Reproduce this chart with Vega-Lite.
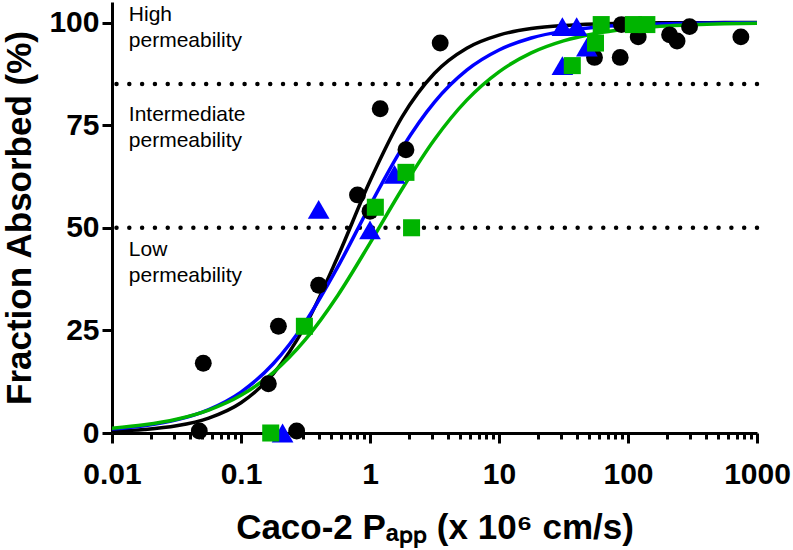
{
  "$schema": "https://vega.github.io/schema/vega-lite/v6.json",
  "width": 645,
  "height": 431,
  "autosize": {"type": "none"},
  "padding": {"left": 112, "top": 2, "right": 36, "bottom": 117},
  "datasets": {
    "levels": [{"level": 85}, {"level": 50}],
    "notes": [
      {"x": 0.0135, "y": 100.3, "note": "High\npermeability"},
      {"x": 0.0135, "y": 75.9, "note": "Intermediate\npermeability"},
      {"x": 0.0135, "y": 43.0, "note": "Low\npermeability"}
    ],
    "curves": [
      {"s": "A", "x": 0.01, "y": 0.40}, {"s": "A", "x": 0.01778, "y": 0.84}, {"s": "A", "x": 0.03162, "y": 1.75}, {"s": "A", "x": 0.05623, "y": 3.64},
      {"s": "A", "x": 0.1, "y": 7.38}, {"s": "A", "x": 0.1778, "y": 14.41}, {"s": "A", "x": 0.3162, "y": 26.25}, {"s": "A", "x": 0.5623, "y": 42.93},
      {"s": "A", "x": 1, "y": 61.39}, {"s": "A", "x": 1.778, "y": 77.07}, {"s": "A", "x": 3.162, "y": 87.66}, {"s": "A", "x": 5.623, "y": 93.76},
      {"s": "A", "x": 10, "y": 96.94}, {"s": "A", "x": 17.78, "y": 98.53}, {"s": "A", "x": 31.62, "y": 99.30}, {"s": "A", "x": 56.23, "y": 99.67},
      {"s": "A", "x": 100, "y": 99.84}, {"s": "A", "x": 177.8, "y": 99.93}, {"s": "A", "x": 316.2, "y": 99.96}, {"s": "A", "x": 562.3, "y": 99.98},
      {"s": "A", "x": 1000, "y": 99.99},
      {"s": "B", "x": 0.01, "y": 0.98}, {"s": "B", "x": 0.01778, "y": 1.77}, {"s": "B", "x": 0.03162, "y": 3.20}, {"s": "B", "x": 0.05623, "y": 5.71},
      {"s": "B", "x": 0.1, "y": 9.97}, {"s": "B", "x": 0.1778, "y": 16.86}, {"s": "B", "x": 0.3162, "y": 27.07}, {"s": "B", "x": 0.5623, "y": 40.45},
      {"s": "B", "x": 1, "y": 55.42}, {"s": "B", "x": 1.778, "y": 69.47}, {"s": "B", "x": 3.162, "y": 80.63}, {"s": "B", "x": 5.623, "y": 88.40},
      {"s": "B", "x": 10, "y": 93.31}, {"s": "B", "x": 17.78, "y": 96.23}, {"s": "B", "x": 31.62, "y": 97.91}, {"s": "B", "x": 56.23, "y": 98.84},
      {"s": "B", "x": 100, "y": 99.37}, {"s": "B", "x": 177.8, "y": 99.65}, {"s": "B", "x": 316.2, "y": 99.81}, {"s": "B", "x": 562.3, "y": 99.90},
      {"s": "B", "x": 1000, "y": 99.94},
      {"s": "C", "x": 0.01, "y": 1.18}, {"s": "C", "x": 0.01778, "y": 1.99}, {"s": "C", "x": 0.03162, "y": 3.35}, {"s": "C", "x": 0.05623, "y": 5.59},
      {"s": "C", "x": 0.1, "y": 9.18}, {"s": "C", "x": 0.1778, "y": 14.72}, {"s": "C", "x": 0.3162, "y": 22.78}, {"s": "C", "x": 0.5623, "y": 33.51},
      {"s": "C", "x": 1, "y": 46.26}, {"s": "C", "x": 1.778, "y": 59.51}, {"s": "C", "x": 3.162, "y": 71.52}, {"s": "C", "x": 5.623, "y": 81.10},
      {"s": "C", "x": 10, "y": 87.99}, {"s": "C", "x": 17.78, "y": 92.60}, {"s": "C", "x": 31.62, "y": 95.53}, {"s": "C", "x": 56.23, "y": 97.33},
      {"s": "C", "x": 100, "y": 98.42}, {"s": "C", "x": 177.8, "y": 99.07}, {"s": "C", "x": 316.2, "y": 99.45}, {"s": "C", "x": 562.3, "y": 99.68},
      {"s": "C", "x": 1000, "y": 99.81}
    ],
    "points": [
      {"s": "A", "x": 0.0475, "y": 0.5}, {"s": "A", "x": 0.051, "y": 17}, {"s": "A", "x": 0.163, "y": 12}, {"s": "A", "x": 0.195, "y": 26},
      {"s": "A", "x": 0.27, "y": 0.5}, {"s": "A", "x": 0.4, "y": 36}, {"s": "A", "x": 0.8, "y": 58}, {"s": "A", "x": 1.0, "y": 54},
      {"s": "A", "x": 1.2, "y": 79}, {"s": "A", "x": 1.9, "y": 69}, {"s": "A", "x": 3.5, "y": 95}, {"s": "A", "x": 55, "y": 91.5},
      {"s": "A", "x": 87, "y": 91.5}, {"s": "A", "x": 89, "y": 99.5}, {"s": "A", "x": 120, "y": 96.5}, {"s": "A", "x": 210, "y": 97},
      {"s": "A", "x": 240, "y": 95.5}, {"s": "A", "x": 300, "y": 99}, {"s": "A", "x": 750, "y": 96.5},
      {"s": "B", "x": 0.21, "y": 0}, {"s": "B", "x": 0.4, "y": 54.5}, {"s": "B", "x": 1.0, "y": 49.5}, {"s": "B", "x": 1.55, "y": 63},
      {"s": "B", "x": 31, "y": 89.5}, {"s": "B", "x": 31, "y": 99}, {"s": "B", "x": 40, "y": 99}, {"s": "B", "x": 48, "y": 94},
      {"s": "C", "x": 0.17, "y": 0}, {"s": "C", "x": 0.31, "y": 26}, {"s": "C", "x": 1.1, "y": 55}, {"s": "C", "x": 1.9, "y": 63.5},
      {"s": "C", "x": 2.1, "y": 50}, {"s": "C", "x": 37, "y": 89.5}, {"s": "C", "x": 56, "y": 95}, {"s": "C", "x": 62, "y": 99.5},
      {"s": "C", "x": 110, "y": 99.5}, {"s": "C", "x": 140, "y": 99.5}
    ]
  },
  "encoding": {
    "x": {
      "field": "x", "type": "quantitative",
      "scale": {"type": "log", "domain": [0.01, 1000], "nice": false},
      "axis": {
        "title": "Caco-2 Pₐₚₚ (x 10⁶ cm/s)",
        "values": [0.01, 0.02, 0.03, 0.04, 0.05, 0.06, 0.07, 0.08, 0.09, 0.1, 0.2, 0.3, 0.4, 0.5, 0.6, 0.7, 0.8, 0.9, 1, 2, 3, 4, 5, 6, 7, 8, 9, 10, 20, 30, 40, 50, 60, 70, 80, 90, 100, 200, 300, 400, 500, 600, 700, 800, 900, 1000],
        "format": "~g",
        "labelExpr": "indexof([0.01, 0.1, 1, 10, 100, 1000], datum.value) >= 0 ? datum.label : ''",
        "tickSize": 10,
        "tickDash": {"condition": {"test": "indexof([0.01, 0.1, 1, 10, 100, 1000], datum.value) >= 0", "value": [20, 1]}, "value": [6, 20]},
        "labelOverlap": false,
        "labelFlush": false,
        "labelPadding": 16,
        "titlePadding": 21
      }
    },
    "y": {
      "field": "y", "type": "quantitative",
      "scale": {"domain": [0, 105], "nice": false},
      "axis": {
        "title": "Fraction Absorbed (%)",
        "values": [0, 25, 50, 75, 100],
        "tickSize": 10,
        "labelPadding": 3,
        "titlePadding": 11
      }
    }
  },
  "layer": [
    {
      "data": {"name": "levels"},
      "mark": {"type": "rule", "color": "black", "strokeDash": [0.01, 12.8], "strokeCap": "round", "strokeWidth": 4.5},
      "encoding": {"x": null, "y": {"field": "level", "type": "quantitative"}}
    },
    {
      "data": {"name": "curves"},
      "mark": {"type": "line", "strokeWidth": 3.5, "interpolate": "monotone", "clip": true},
      "encoding": {
        "color": {"field": "s", "type": "nominal", "scale": {"domain": ["A", "B", "C"], "range": ["#000000", "#0000ff", "#00b400"]}, "legend": null}
      }
    },
    {
      "data": {"name": "points"},
      "transform": [{"filter": "datum.s === 'A'"}],
      "mark": {"type": "point", "shape": "circle", "filled": true, "opacity": 1, "size": 285, "color": "#000000"}
    },
    {
      "data": {"name": "points"},
      "transform": [{"filter": "datum.s === 'B'"}],
      "mark": {"type": "point", "shape": "triangle-up", "filled": true, "opacity": 1, "size": 470, "color": "#0000ff"}
    },
    {
      "data": {"name": "points"},
      "transform": [{"filter": "datum.s === 'C'"}],
      "mark": {"type": "point", "shape": "square", "filled": true, "opacity": 1, "size": 290, "color": "#00b400"}
    },
    {
      "data": {"name": "notes"},
      "mark": {"type": "text", "align": "left", "baseline": "alphabetic", "font": "Liberation Sans", "fontSize": 21, "lineHeight": 26, "lineBreak": "\n", "color": "black"},
      "encoding": {"text": {"field": "note", "type": "nominal"}}
    }
  ],
  "config": {
    "view": {"stroke": null},
    "axis": {
      "grid": false,
      "domainColor": "black", "domainWidth": 3,
      "tickColor": "black", "tickWidth": 3,
      "labelFont": "Liberation Sans", "labelFontWeight": "bold", "labelFontSize": 30, "labelColor": "black",
      "titleFont": "Liberation Sans", "titleFontWeight": "bold", "titleFontSize": 35, "titleColor": "black"
    }
  }
}
